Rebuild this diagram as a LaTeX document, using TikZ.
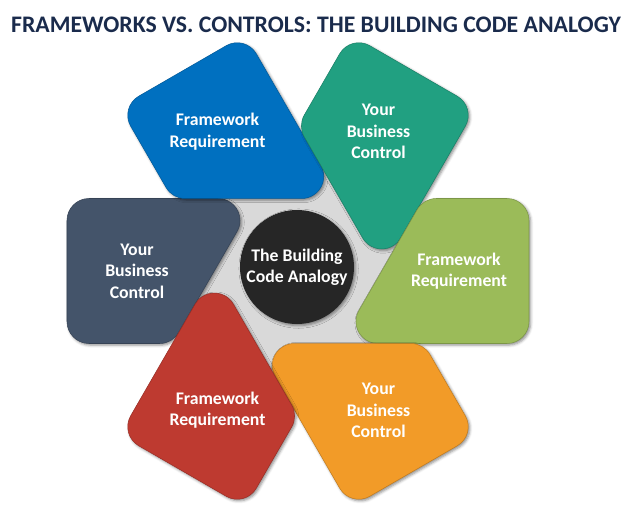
\documentclass[tikz,border=0pt]{standalone}
\usepackage{fontspec}
\setmainfont{Carlito}
\usetikzlibrary{shadows.blur}

\definecolor{fwblue}{HTML}{0070C0}
\definecolor{bcteal}{HTML}{21A081}
\definecolor{fwgreen}{HTML}{9BBB59}
\definecolor{bcorange}{HTML}{F29B28}
\definecolor{fwred}{HTML}{BE3A30}
\definecolor{bcslate}{HTML}{44546A}
\definecolor{hubgrey}{HTML}{D9D9D9}
\definecolor{hubblack}{HTML}{262626}
\definecolor{titlenavy}{HTML}{1A2B4C}

\begin{document}
\begin{tikzpicture}[x=0.75pt,y=0.75pt,
  petal/.style={fill=#1, draw=#1!80!black, line width=0.4pt,
    blur shadow={shadow xshift=1.2pt, shadow yshift=-1.2pt, shadow blur radius=2pt, shadow opacity=45}},
  petaltext/.style={text=white, font=\bfseries\fontsize{13.3}{16}\selectfont, align=center},
  hub/.style={circle, fill=hubblack, minimum size=85.5pt, inner sep=0pt, text=white,
    font=\bfseries\fontsize{13.3}{16}\selectfont, align=center,
    blur shadow={shadow xshift=1.2pt, shadow yshift=-1.2pt, shadow blur radius=2pt, shadow opacity=45}}]
  \useasboundingbox (-298,-237) rectangle (335,271);
  \node[font=\bfseries\fontsize{17.8}{20}\selectfont, text=titlenavy] (title) at (18,246)
    {FRAMEWORKS VS. CONTROLS: THE BUILDING CODE ANALOGY};
  \fill[hubgrey] (0,0) circle (110);
  % six petals, each turned 60 degrees from the one before
  \foreach \i/\c/\t in {0/bcslate/{Your\\Business\\Control}, 1/fwblue/{Framework\\Requirement},
      2/bcteal/{Your\\Business\\Control}, 3/fwgreen/{Framework\\Requirement},
      4/bcorange/{Your\\Business\\Control}, 5/fwred/{Framework\\Requirement}}{
    \path[petal=\c, rotate=-60*\i] (-231,50.5) arc[start angle=180, end angle=90, radius=22]
      -- (-80,72.5) arc[start angle=90, end angle=-30, radius=22]
      -- (-119.25,-61.5) arc[start angle=-30, end angle=-90, radius=22]
      -- (-209,-72.5) arc[start angle=270, end angle=180, radius=22] -- cycle;
    \node[petaltext] (petal\i) at (180-60*\i:161) {\t};
  }
  \node[hub] (hub) at (-1,4) {The Building\\Code Analogy};
\end{tikzpicture}
\end{document}
